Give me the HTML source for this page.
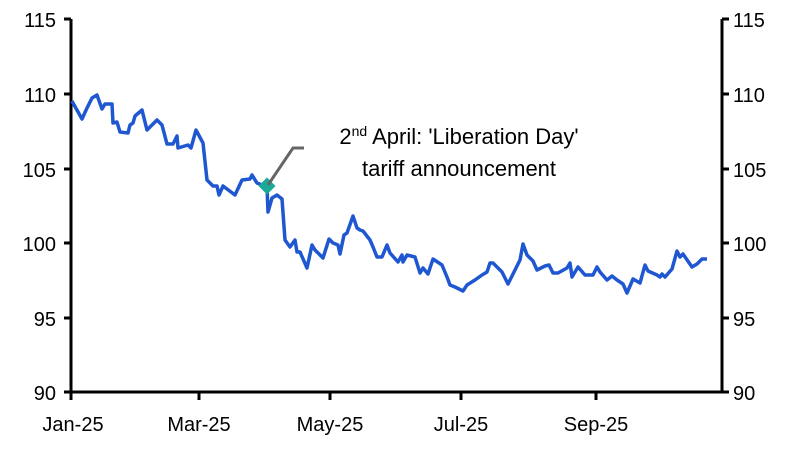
<!DOCTYPE html>
<html><head><meta charset="utf-8"><style>
html,body{margin:0;padding:0;background:#fff;}
svg{display:block;font-family:"Liberation Sans",sans-serif;}
</style></head><body>
<svg width="801" height="453" viewBox="0 0 801 453" xmlns="http://www.w3.org/2000/svg">
<g stroke="#000" stroke-width="3" fill="none">
<line x1="71" y1="19" x2="71" y2="393"/>
<line x1="722" y1="19" x2="722" y2="393"/>
<line x1="64" y1="392" x2="722" y2="392"/>
<line x1="64" y1="19" x2="71" y2="19"/><line x1="64" y1="94" x2="71" y2="94"/><line x1="64" y1="169" x2="71" y2="169"/><line x1="64" y1="243" x2="71" y2="243"/><line x1="64" y1="318" x2="71" y2="318"/>
<line x1="722" y1="19" x2="729" y2="19"/><line x1="722" y1="94" x2="729" y2="94"/><line x1="722" y1="169" x2="729" y2="169"/><line x1="722" y1="243" x2="729" y2="243"/><line x1="722" y1="318" x2="729" y2="318"/><line x1="722" y1="392" x2="729" y2="392"/>
<line x1="71" y1="392" x2="71" y2="400"/><line x1="199" y1="392" x2="199" y2="400"/><line x1="330" y1="392" x2="330" y2="400"/><line x1="461" y1="392" x2="461" y2="400"/><line x1="596" y1="392" x2="596" y2="400"/>
</g>
<g font-size="20" fill="#000" text-anchor="end">
<text x="56" y="27">115</text><text x="56" y="102">110</text><text x="56" y="177">105</text><text x="56" y="251">100</text><text x="56" y="326">95</text><text x="56" y="400">90</text>
</g>
<g font-size="20" fill="#000" text-anchor="start">
<text x="733" y="27">115</text><text x="733" y="102">110</text><text x="733" y="177">105</text><text x="733" y="251">100</text><text x="733" y="326">95</text><text x="733" y="400">90</text>
</g>
<g font-size="20" fill="#000" text-anchor="middle">
<text x="73" y="431">Jan-25</text><text x="199" y="431">Mar-25</text><text x="330" y="431">May-25</text><text x="461" y="431">Jul-25</text><text x="596" y="431">Sep-25</text>
</g>
<polyline fill="none" stroke="#1f57d1" stroke-width="3.5" stroke-linejoin="round" points="72,101 73,103 82,119 87,108 92,98 97,95 102,109 105,104 112,104 113,123 117,122 120,132 128,133 130,125 133,123 135,116 142,110 147,130 157,120 162,125 167,144 173,144 177,136 178,148 188,145 191,148 196,130 203,143 207,180 213,186 217,186 219,195 223,186 235,195 242,180 250,179 252,175 257,183 267,187 268,212 272,198 277,195 282,199 285,240 290,247 295,240 297,252 300,252 307,268 312,245 315,250 323,258 329,239 333,243 338,245 340,254 344,235 347,233 353,216 357,228 360,230 363,231 370,240 373,247 377,257 382,257 387,245 390,253 398,262 402,255 403,262 407,255 415,257 420,273 423,268 428,274 433,259 442,265 447,277 450,285 455,287 463,291 467,285 475,280 482,275 487,272 490,263 493,263 502,272 508,284 520,260 523,244 527,255 533,261 537,270 545,266 549,265 553,273 558,273 567,268 570,263 572,277 578,267 585,275 593,275 597,267 600,272 607,280 612,276 617,280 623,284 627,293 633,279 640,283 645,265 648,271 657,275 660,277 662,274 665,277 672,269 677,251 680,257 683,254 692,267 697,264 702,259 707,259"/>
<rect x="261" y="180" width="12" height="12" fill="#1aaa9a" transform="rotate(45 267 186)"/>
<polyline points="268,185 293,148 304,148" fill="none" stroke="#666" stroke-width="3"/>
<g font-size="22" fill="#000" text-anchor="middle">
<text x="459" y="144">2<tspan font-size="14" dy="-8">nd</tspan><tspan dy="8"> April: 'Liberation Day'</tspan></text>
<text x="459" y="176">tariff announcement</text>
</g>
</svg>
</body></html>
